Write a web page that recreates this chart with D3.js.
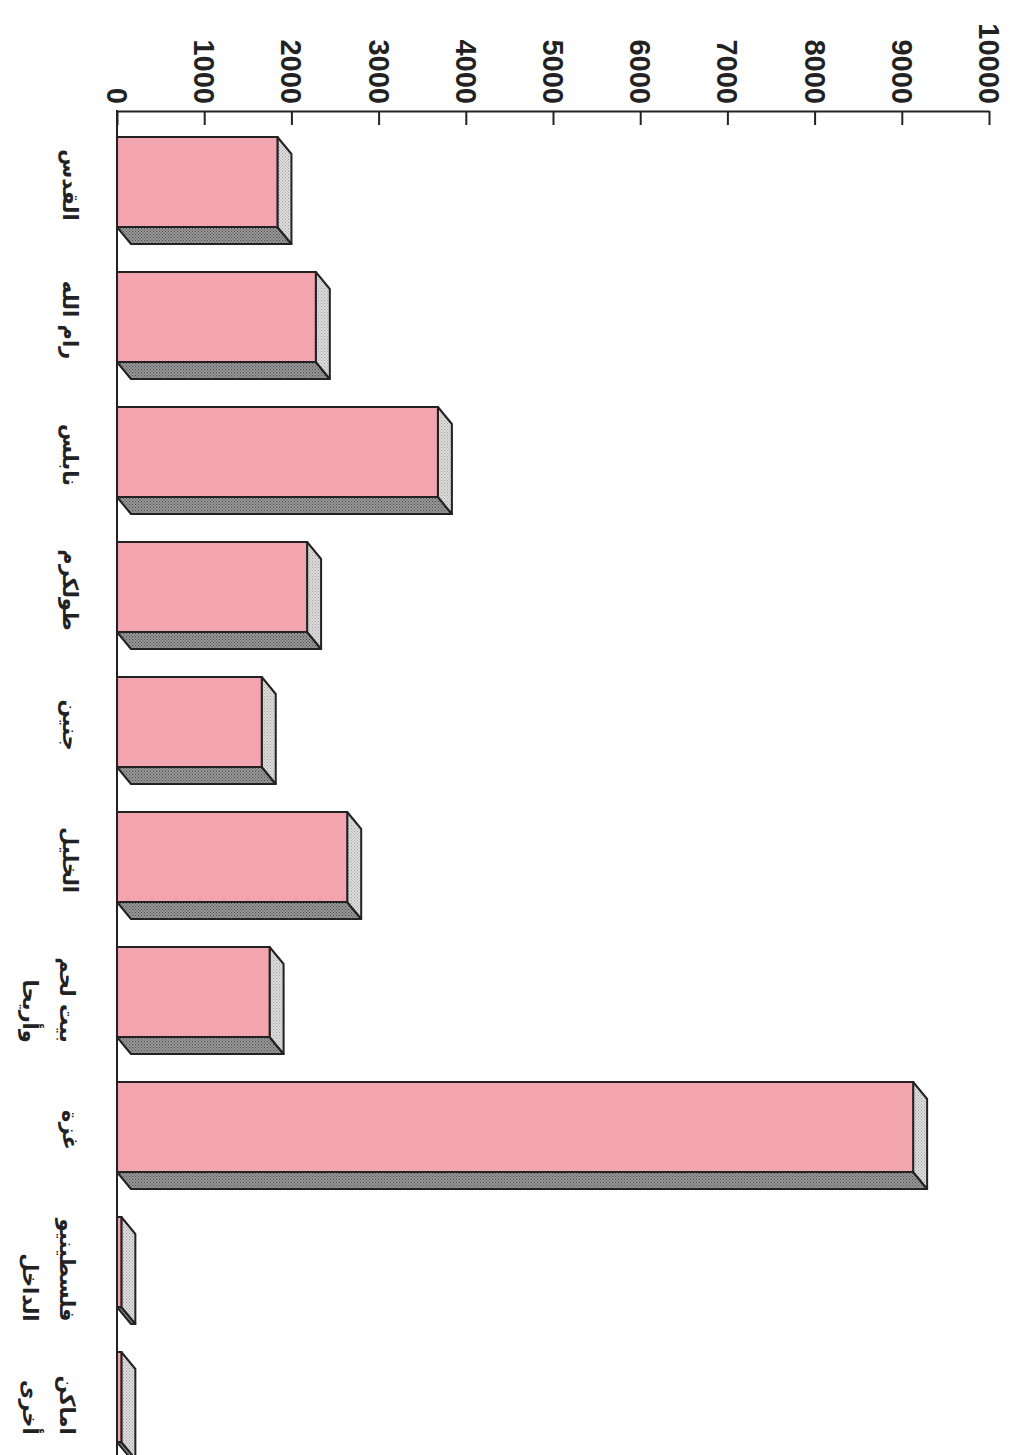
<!DOCTYPE html>
<html>
<head>
<meta charset="utf-8">
<script src="https://cdn.jsdelivr.net/npm/d3@7/dist/d3.min.js"></script>
<style>
  html, body { margin: 0; padding: 0; background: #ffffff; }
  svg { display: block; }
</style>
</head>
<body>
<svg id="chart" width="1010" height="1455"></svg>
<script>
// ---- data ----
const categories = [
  ["القدس"],
  ["رام الله"],
  ["نابلس"],
  ["طولكرم"],
  ["جنين"],
  ["الخليل"],
  ["بيت لحم", "وأريحا"],
  ["غزة"],
  ["فلسطينيو", "الداخل"],
  ["اماكن", "أخرى"]
];
const values = [1840, 2280, 3680, 2180, 1660, 2640, 1750, 9130, 50, 50];
const tickValues = [0, 1000, 2000, 3000, 4000, 5000, 6000, 7000, 8000, 9000, 10000];

// ---- layout ----
const W = 1010, H = 1455;
const axisY = 111;
const depthX = 14, depthY = 17;

const svg = d3.select("#chart");
svg.append("rect").attr("width", W).attr("height", H).attr("fill", "#ffffff");

const defs = svg.append("defs");
function dotPattern(id, base, dot) {
  const p = defs.append("pattern").attr("id", id)
    .attr("patternUnits", "userSpaceOnUse").attr("width", 3).attr("height", 3);
  p.append("rect").attr("width", 3).attr("height", 3).attr("fill", base);
  p.append("rect").attr("x", 0).attr("y", 0).attr("width", 1).attr("height", 1).attr("fill", dot);
  p.append("rect").attr("x", 1.5).attr("y", 1.5).attr("width", 1).attr("height", 1).attr("fill", dot);
}
dotPattern("lightFace", "#dedede", "#a0a0a0");
dotPattern("darkFace", "#999999", "#4a4a4a");

const x = d3.scaleLinear().domain([0, 10000]).range([117, 989]);
const y = d3.scaleBand()
  .domain(d3.range(categories.length))
  .range([137, 137 + 135 * (categories.length - 1 / 3)])
  .paddingInner(1 / 3)
  .paddingOuter(0);

// ---- bars ----
const bars = svg.append("g").attr("class", "bars");
values.forEach((v, i) => {
  const x0 = x(0), x1 = x(v), y0 = y(i), y1 = y(i) + y.bandwidth();
  const g = bars.append("g");
  g.append("path")
    .attr("d", `M${x0},${y1}L${x1},${y1}L${x1 + depthX},${y1 + depthY}L${x0 + depthX},${y1 + depthY}Z`)
    .attr("fill", "url(#darkFace)").attr("stroke", "#222").attr("stroke-width", 2).attr("stroke-linejoin", "round");
  g.append("path")
    .attr("d", `M${x1},${y0}L${x1 + depthX},${y0 + depthY}L${x1 + depthX},${y1 + depthY}L${x1},${y1}Z`)
    .attr("fill", "url(#lightFace)").attr("stroke", "#222").attr("stroke-width", 2).attr("stroke-linejoin", "round");
  g.append("rect")
    .attr("x", x0).attr("y", y0).attr("width", x1 - x0).attr("height", y1 - y0)
    .attr("fill", "#f2a4af").attr("stroke", "#222").attr("stroke-width", 2);
});

// ---- value axis (top) ----
const axis = d3.axisTop(x).tickValues(tickValues).tickSizeInner(-14).tickSizeOuter(0).tickFormat(d3.format("d"));
const ag = svg.append("g").attr("transform", `translate(0,${axisY})`).call(axis);
ag.select(".domain").attr("stroke", "#222").attr("stroke-width", 2);
ag.selectAll(".tick line").attr("stroke", "#222").attr("stroke-width", 2);
ag.selectAll(".tick text")
  .attr("x", 0).attr("y", 0).attr("dy", "0.36em")
  .attr("transform", "translate(0,-7) rotate(90)")
  .attr("text-anchor", "end")
  .attr("fill", "#222")
  .style("font-family", "'Liberation Sans', Arial, sans-serif")
  .style("font-size", "29px")
  .style("font-weight", "bold");

// ---- category axis (left) ----
svg.append("line")
  .attr("x1", x(0)).attr("x2", x(0)).attr("y1", axisY - 1).attr("y2", H)
  .attr("stroke", "#222").attr("stroke-width", 2);

// ---- category labels ----
const lg = svg.append("g").attr("class", "labels");
categories.forEach((lines, i) => {
  const cy = y(i) + y.bandwidth() / 2;
  if (lines.length === 1) {
    lg.append("text")
      .attr("transform", `translate(70,${cy + 3}) rotate(90)`)
      .attr("text-anchor", "middle")
      .attr("dominant-baseline", "central")
      .attr("fill", "#222")
      .style("font-family", "'DejaVu Sans', sans-serif")
      .style("font-size", "21px")
      .style("font-weight", "bold")
      .text(lines[0]);
  } else {
    const g = lg.append("g").attr("transform", `translate(67,${cy}) rotate(90)`);
    const texts = lines.map((t, k) => g.append("text")
      .attr("y", k * 37)
      .attr("text-anchor", "end")
      .attr("dominant-baseline", "central")
      .attr("fill", "#222")
      .style("font-family", "'DejaVu Sans', sans-serif")
      .style("font-size", "21px")
      .style("font-weight", "bold")
      .text(t));
    const maxLen = d3.max(texts, t => t.node().getComputedTextLength());
    texts.forEach(t => t.attr("x", maxLen / 2 + 8));
  }
});
</script>
</body>
</html>
